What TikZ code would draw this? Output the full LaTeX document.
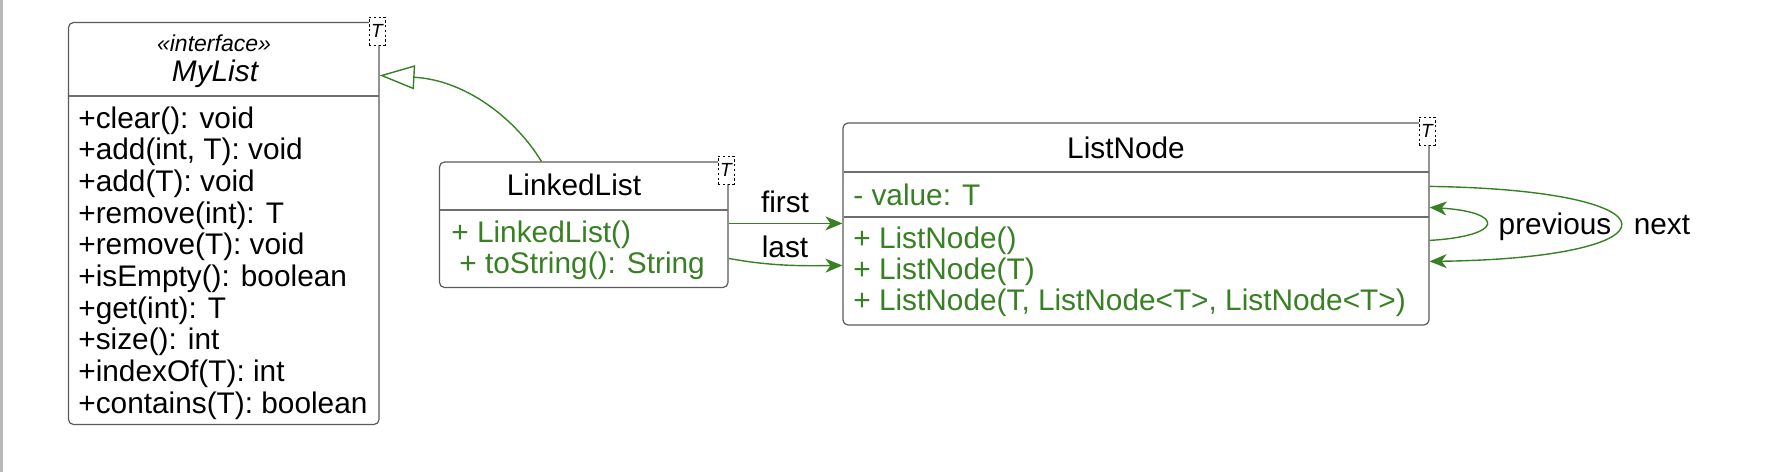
\documentclass[tikz,border=0pt]{standalone}
\usepackage{fontspec}
\setmainfont{Liberation Sans}
\usetikzlibrary{arrows.meta,calc}
\definecolor{grn}{RGB}{56,128,36}
\definecolor{boxline}{RGB}{90,90,90}
\definecolor{divline}{RGB}{110,110,110}
\definecolor{edgegray}{RGB}{185,185,185}
\begin{document}
\begin{tikzpicture}[x=0.5pt,y=-0.5pt,
  classbox/.style={draw=boxline, line width=0.6pt, rounded corners=2.5pt, fill=white, inner sep=0pt},
  divider/.style={draw=divline, line width=0.6pt},
  txt/.style={inner sep=0pt, anchor=base west, font=\fontsize{14.9}{17}\selectfont},
  ctxt/.style={inner sep=0pt, anchor=base, font=\fontsize{14.9}{17}\selectfont},
  member/.style={txt, text=grn},
  tparam/.style={draw=black, dashed, dash pattern=on 1.2pt off 1.2pt, line width=0.5pt, fill=white, inner sep=0pt, minimum width=8pt, minimum height=14pt, font=\fontsize{9.5}{10}\selectfont\itshape},
  assoc/.style={draw=grn, line width=0.7pt, -{Stealth[length=8.5pt, width=7pt, inset=2.5pt]}},
  gen/.style={draw=grn, line width=0.7pt, -{Triangle[open, length=17.5pt, width=12pt, fill=white]}}
]
\useasboundingbox (0,0) rectangle (1784,472);
\fill[edgegray] (0,0) rectangle (2.5,472);

% MyList
\node[classbox, minimum width=155.25pt, minimum height=201pt] (mylist) at (223.75,223.5) {};
\draw[divider] (69,96) -- (378.5,96);
\node[ctxt, font=\fontsize{11.5}{13}\selectfont\itshape] (mlstereo) at (214,51) {«interface»};
\node[ctxt, font=\fontsize{14.9}{17}\selectfont\itshape] (mlname) at (215,81) {MyList};
\node[txt] (m1) at (78,128) {+clear(): void};
\node[txt] (m2) at (78,159.7) {+add(int, T): void};
\node[txt] (m3) at (78,191.3) {+add(T): void};
\node[txt] (m4) at (78,223) {+remove(int): T};
\node[txt] (m5) at (78,254.7) {+remove(T): void};
\node[txt] (m6) at (78,286.3) {+isEmpty(): boolean};
\node[txt] (m7) at (78,318) {+get(int): T};
\node[txt] (m8) at (78,349.7) {+size(): int};
\node[txt] (m9) at (78,381.3) {+indexOf(T): int};
\node[txt] (m10) at (78,413) {+contains(T): boolean};
\node[tparam] (mlT) at (377,31) {T};

% LinkedList
\node[classbox, minimum width=144.25pt, minimum height=62.75pt] (linked) at (583.75,224.75) {};
\draw[divider] (440,210) -- (727.5,210);
\node[ctxt] (llname) at (574,195) {LinkedList};
\node[member] (l1) at (451,242) {+ LinkedList()};
\node[member] (l2) at (459,273) {+ toString(): String};
\node[tparam] (llT) at (726,170) {T};

% ListNode
\node[classbox, minimum width=293pt, minimum height=101pt] (listnode) at (1136,224) {};
\draw[divider] (843.5,172) -- (1428.5,172);
\draw[divider] (843.5,217) -- (1428.5,217);
\node[ctxt] (lnname) at (1126,158) {ListNode};
\node[member] (lnv) at (853,205) {- value: T};
\node[member] (n1) at (853,248) {+ ListNode()};
\node[member] (n2) at (853,279) {+ ListNode(T)};
\node[member] (n3) at (853,310) {+ ListNode(T, ListNode<T>, ListNode<T>)};
\node[tparam] (lnT) at (1427,131) {T};

% generalization
\draw[gen] ($(linked.north west)+(102.5,0)$) .. controls (515,118) and (465,80) .. ($(mylist.north east)+(0,53.5)$);

% first / last
\draw[assoc] ($(linked.north east)+(0,62)$) -- ($(listnode.north west)+(0,101)$);
\draw[assoc] ($(linked.north east)+(0,97)$) .. controls (770,266) and (800,266) .. ($(listnode.north west)+(0,143)$);
\node[ctxt] (lfirst) at (785,212) {first};
\node[ctxt] (llast) at (785,257) {last};

% self loops
\draw[assoc] ($(listnode.north east)+(0,118)$) .. controls (1505,236) and (1505,212) .. ($(listnode.north east)+(0,85)$);
\draw[assoc] ($(listnode.north east)+(0,64)$) .. controls (1684,190) and (1684,258) .. ($(listnode.north east)+(0,139)$);
\node[ctxt] (lprev) at (1555,234) {previous};
\node[ctxt] (lnext) at (1662,234) {next};
\end{tikzpicture}
\end{document}
